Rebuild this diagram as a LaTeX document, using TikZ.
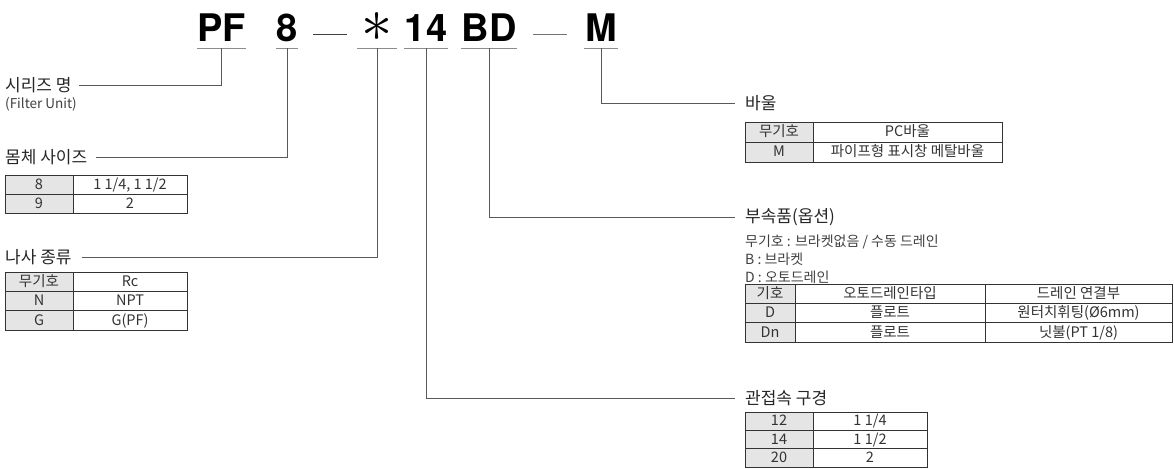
\documentclass[tikz,border=0pt]{standalone}
\usepackage{graphicx}
\usepackage{fontspec}
\setmainfont{Noto Sans CJK KR}
\newfontfamily\codefont{TeX Gyre Heros}
\usetikzlibrary{positioning}

\tikzset{
  code/.style={font=\codefont\bfseries\fontsize{38}{40}\selectfont, anchor=base,
    inner xsep=0.5pt, inner ysep=6pt, text height=27pt, text depth=0pt},
  uline/.style={draw=black!45, line width=1pt},
  lead/.style={draw=black!65, line width=0.9pt},
  lbl/.style={font=\fontsize{17}{19}\selectfont, text=black!85, inner sep=0pt, anchor=west},
  note/.style={font=\fontsize{14}{16}\selectfont, text=black!75, inner sep=0pt, anchor=west},
  cell/.style={font=\fontsize{14.5}{16}\selectfont, text=black!80, inner sep=0pt,
    text height=10pt, text depth=0.5pt},
  grid/.style={draw=black!80, line width=0.9pt},
  key/.style={fill=black!10}
}

\begin{document}
\begin{tikzpicture}[x=1pt,y=-1pt]
    \useasboundingbox (0,0) rectangle (1174,468);

    % model code
    \node [code] (pf) at (221.5,42) {PF};
    \node [code] (eight) at (287,42) {8};
    \node [code,inner xsep=4pt] (star) at (377,42) {\scalebox{2.5}{$\ast$}};
    \node [code] (fourteen) at (426,42) {14};
    \node [code] (bd) at (489,42) {BD};
    \node [code] (m) at (601,42) {M};
    \node [anchor=base,inner sep=0pt] (dasha) at (330,42) {\color{black!75}\rule[7pt]{34pt}{1.3pt}};
    \node [anchor=base,inner sep=0pt] (dashb) at (550,42) {\color{black!55}\rule[7pt]{34pt}{1.3pt}};
    \foreach \n in {pf,eight,star,fourteen,bd,m}
        \draw [uline] (\n.south west) -- (\n.south east);

    % labels
    \node [lbl] (seriesname) at (5,85) {시리즈 명};
    \node [note,font=\fontsize{13.5}{15}\selectfont] (filterunit) at (5,104) {(Filter Unit)};
    \node [lbl] (bodysize) at (5,157) {몸체 사이즈};
    \node [lbl] (threadtype) at (5,257) {나사 종류};
    \node [lbl] (bowltype) at (745,103) {바울};
    \node [lbl] (accessory) at (745,217) {부속품(옵션)};
    \node [lbl] (portsize) at (745,398) {관접속 구경};

    % leaders
    \draw [lead] (pf.south) |- ([xshift=7pt]seriesname.east);
    \draw [lead] (eight.south) |- ([xshift=9pt]bodysize.east);
    \draw [lead] (star.south) |- ([xshift=10pt]threadtype.east);
    \draw [lead] (m.south) |- ([xshift=-10pt]bowltype.west);
    \draw [lead] (bd.south) |- ([xshift=-10pt]accessory.west);
    \draw [lead] (fourteen.south) |- ([xshift=-10pt]portsize.west);

    % body size table
    \fill [key] (5,175) rectangle (73,213);
    \foreach \k/\v [count=\i] in {8/{1 1/4, 1 1/2}, 9/2} {
        \draw [grid] (5,{175+19*(\i-1)}) rectangle (187,{175+19*\i});
        \draw [grid] (73,{175+19*(\i-1)}) -- (73,{175+19*\i});
        \node [cell] (sz\i k) at (39,{175+19*(\i-0.5)}) {\k};
        \node [cell] (sz\i v) at (130,{175+19*(\i-0.5)}) {\v};
    }

    % thread table
    \fill [key] (5,272) rectangle (73,330);
    \foreach \k/\v [count=\i] in {무기호/Rc, N/NPT, G/G(PF)} {
        \draw [grid] (5,{272+19.33*(\i-1)}) rectangle (187,{272+19.33*\i});
        \draw [grid] (73,{272+19.33*(\i-1)}) -- (73,{272+19.33*\i});
        \node [cell] (th\i k) at (39,{272+19.33*(\i-0.5)}) {\k};
        \node [cell] (th\i v) at (130,{272+19.33*(\i-0.5)}) {\v};
    }

    % bowl table
    \fill [key] (745,122) rectangle (813,162);
    \foreach \k/\v [count=\i] in {무기호/PC바울, M/파이프형 표시창 메탈바울} {
        \draw [grid] (745,{122+20*(\i-1)}) rectangle (1002,{122+20*\i});
        \draw [grid] (813,{122+20*(\i-1)}) -- (813,{122+20*\i});
        \node [cell] (bw\i k) at (779,{122+20*(\i-0.5)}) {\k};
        \node [cell] (bw\i v) at (907.5,{122+20*(\i-0.5)}) {\v};
    }

    % accessory notes and table
    \node [note] (noacc) at (745,242) {무기호 : 브라켓없음 / 수동 드레인};
    \node [note] (bracket) at (745,259.5) {B : 브라켓};
    \node [note] (autodrain) at (745,277) {D : 오토드레인};
    \fill [key] (745,284) rectangle (795,342);
    \foreach \k/\t/\c [count=\i] in {기호/오토드레인타입/드레인 연결부, D/플로트/원터치휘팅(Ø6mm), Dn/플로트/{닛불(PT 1/8)}} {
        \draw [grid] (745,{284+19.33*(\i-1)}) rectangle (1172,{284+19.33*\i});
        \draw [grid] (795,{284+19.33*(\i-1)}) -- (795,{284+19.33*\i})
                     (985,{284+19.33*(\i-1)}) -- (985,{284+19.33*\i});
        \node [cell] (ac\i k) at (770,{284+19.33*(\i-0.5)}) {\k};
        \node [cell] (ac\i t) at (890,{284+19.33*(\i-0.5)}) {\t};
        \node [cell] (ac\i c) at (1078.5,{284+19.33*(\i-0.5)}) {\c};
    }

    % port size table
    \fill [key] (745,412) rectangle (813,467);
    \foreach \k/\v [count=\i] in {12/{1 1/4}, 14/{1 1/2}, 20/2} {
        \draw [grid] (745,{412+18.33*(\i-1)}) rectangle (927,{412+18.33*\i});
        \draw [grid] (813,{412+18.33*(\i-1)}) -- (813,{412+18.33*\i});
        \node [cell] (pt\i k) at (779,{412+18.33*(\i-0.5)}) {\k};
        \node [cell] (pt\i v) at (870,{412+18.33*(\i-0.5)}) {\v};
    }
\end{tikzpicture}
\end{document}
